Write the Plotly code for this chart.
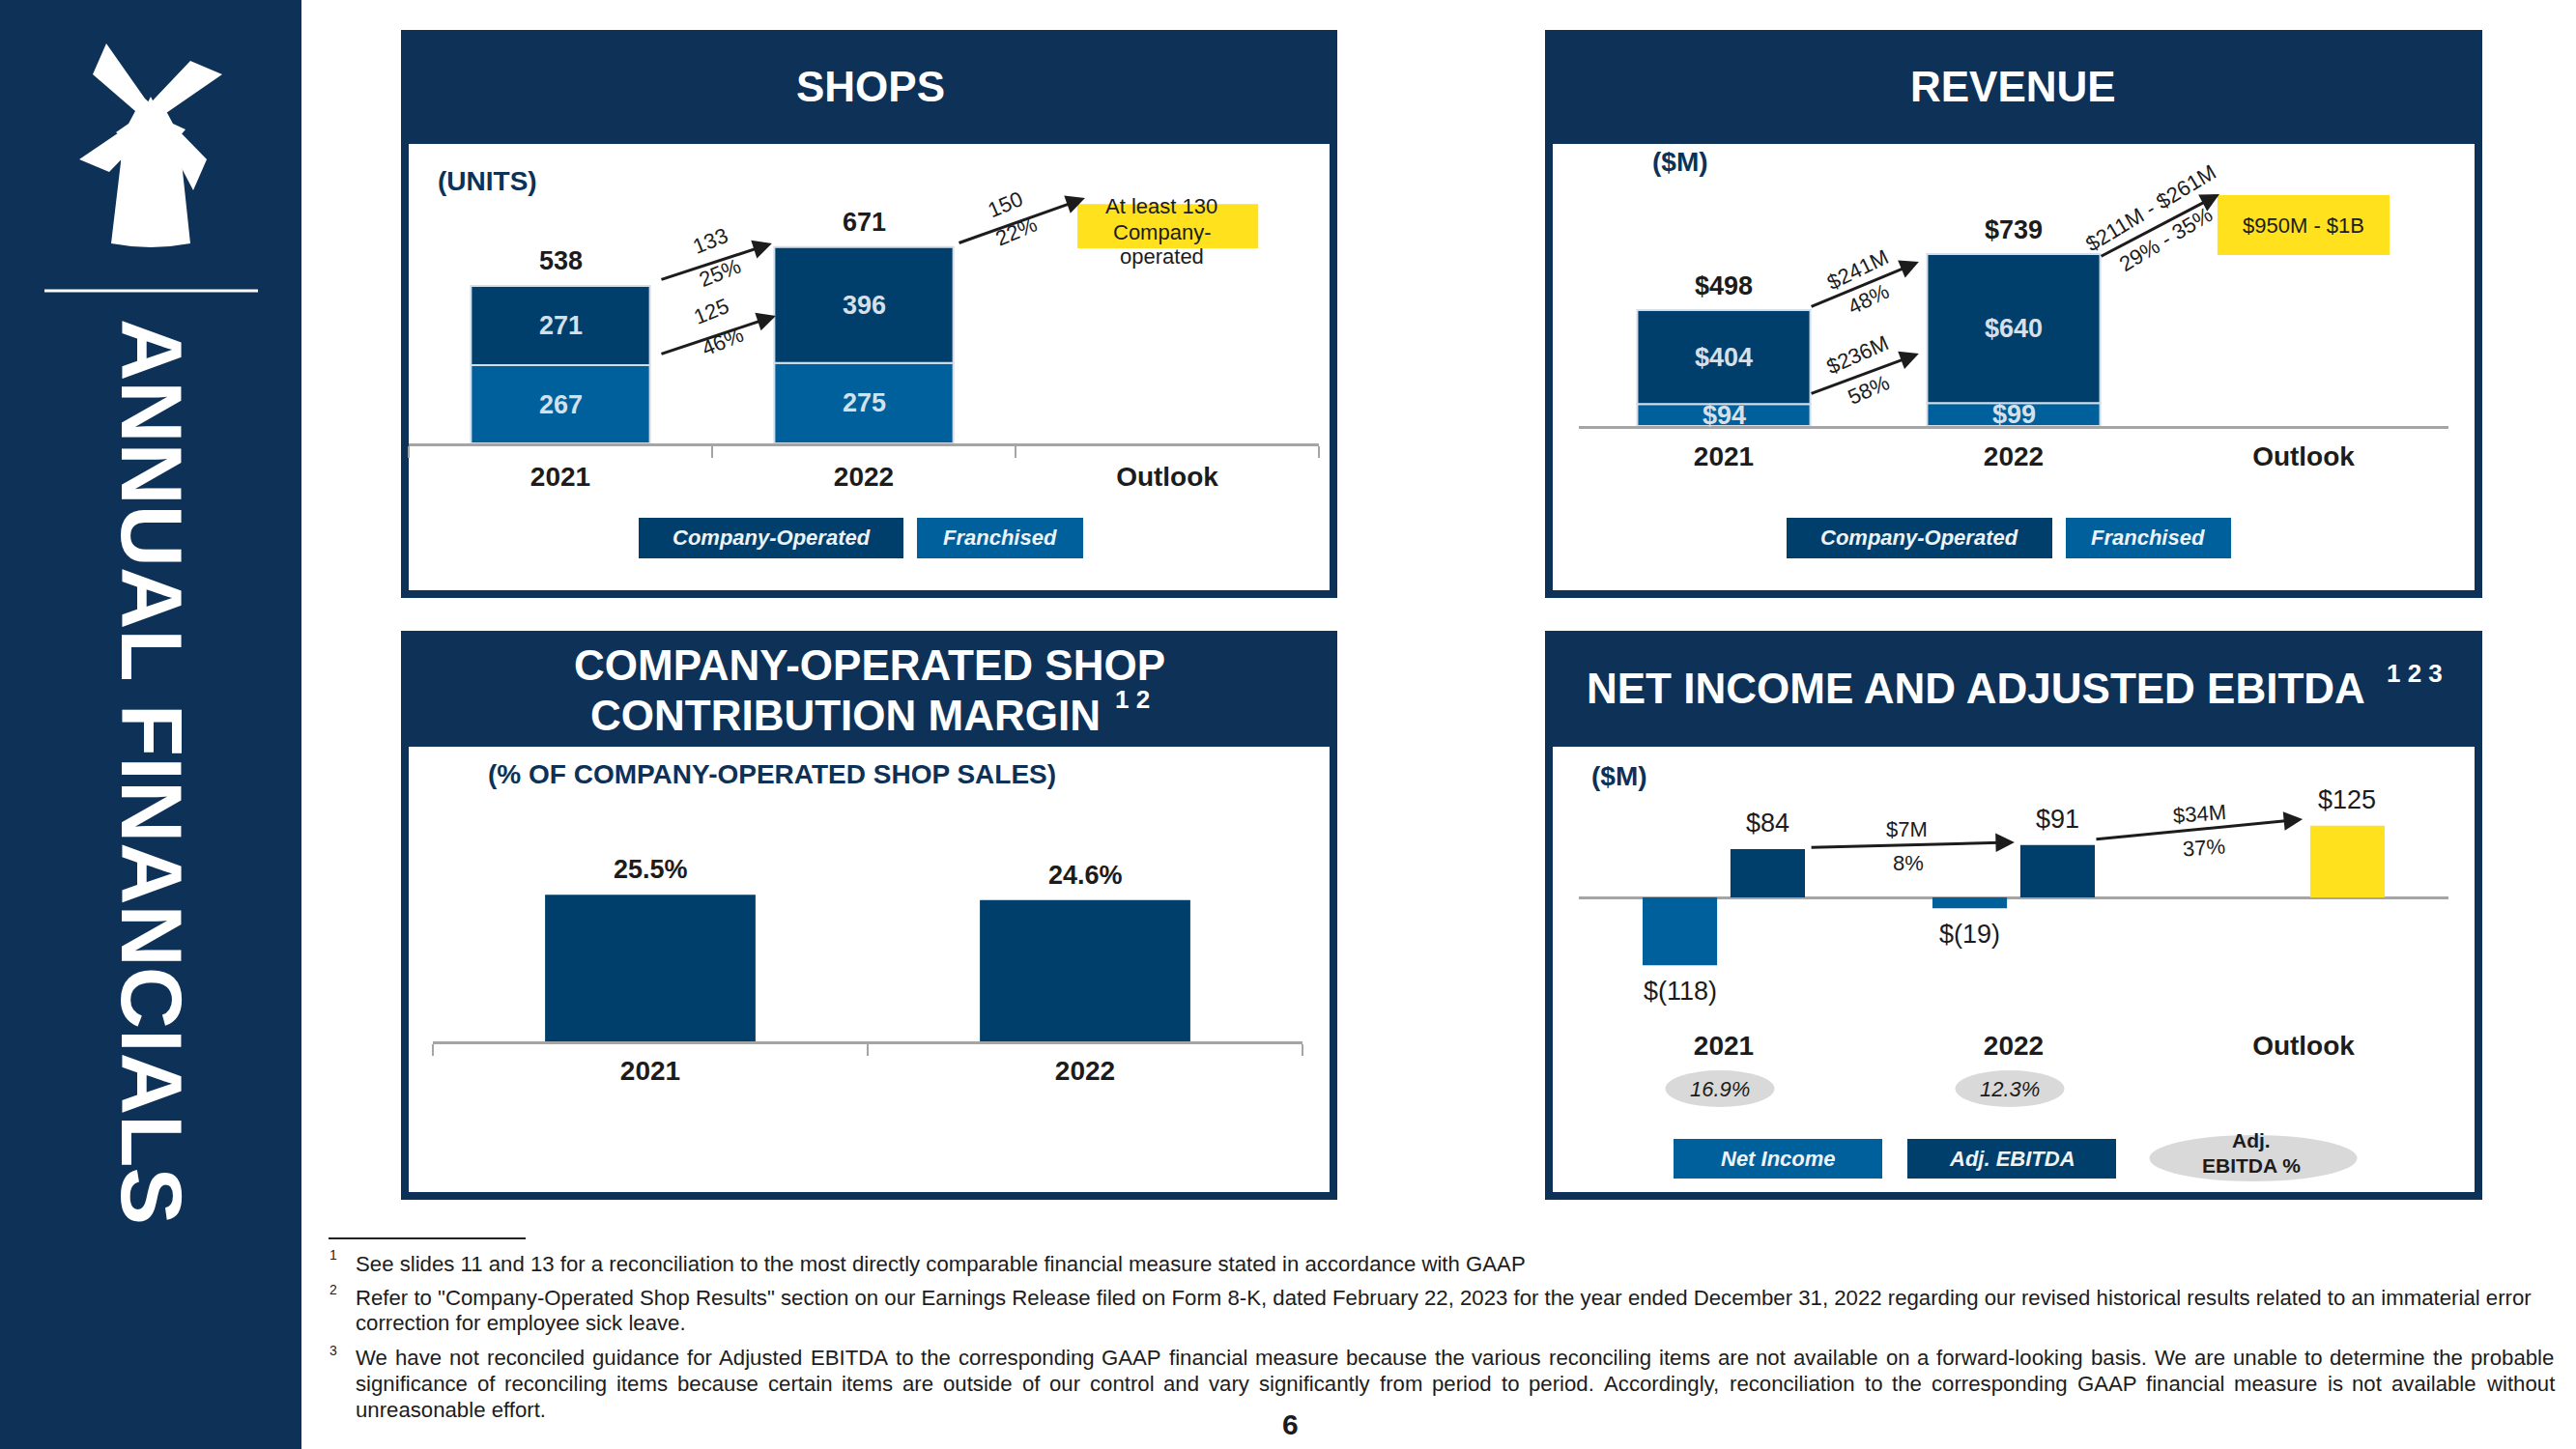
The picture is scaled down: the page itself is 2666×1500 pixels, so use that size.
import plotly.graph_objects as go

# ------------------------------------------------------------------ data
years = ["2021", "2022", "Outlook"]

shops_franchised = [267, 275]
shops_company = [271, 396]
shops_total = [538, 671]
shops_growth_total = ["133", "25%"]
shops_growth_company = ["125", "46%"]
shops_growth_outlook = ["150", "22%"]
shops_outlook_lines = ["At least 130", "Company-", "operated"]

rev_franchised = [94, 99]
rev_company = [404, 640]
rev_total = [498, 739]
rev_growth_total = ["$241M", "48%"]
rev_growth_company = ["$236M", "58%"]
rev_growth_outlook = ["$211M - $261M", "29% - 35%"]
rev_outlook_text = "$950M - $1B"

margin_years = ["2021", "2022"]
margin_values = [25.5, 24.6]

ni_values = [-118, -19, None]
ebitda_values = [84, 91, 125]
ebitda_growth = [["$7M", "8%"], ["$34M", "37%"]]
ebitda_margin = ["16.9%", "12.3%"]

footnotes = [
    ("1", ["See slides 11 and 13 for a reconciliation to the most directly comparable financial measure stated in accordance with GAAP"]),
    ("2", ['Refer to "Company-Operated Shop Results" section on our Earnings Release filed on Form 8-K, dated February 22, 2023 for the year ended December 31, 2022 regarding our revised historical results related to an immaterial error',
           "correction for employee sick leave."]),
    ("3", ["We have not reconciled guidance for Adjusted EBITDA to the corresponding GAAP financial measure because the various reconciling items are not available on a forward-looking basis. We are unable to determine the probable",
           "significance of reconciling items because certain items are outside of our control and vary significantly from period to period. Accordingly, reconciliation to the corresponding GAAP financial measure is not available without",
           "unreasonable effort."]),
]
footnote_justify = [[False], [False, False], [True, True, False]]

# ------------------------------------------------------------------ style
W, H = 2666, 1500
def PX(x): return x / W
def PY(y): return 1 - y / H

FONT = "Liberation Sans, Arial, Helvetica, sans-serif"
NAVY = "#0D3157"
CO = "#003F6B"
FR = "#00609C"
YEL = "#FFE11D"
EDGE = "#D3DEEA"
SEG_TXT = "#D6E0EA"
INK = "#1C1C1C"
AXIS = "#A5A5A5"
ELL = "#D9D9D9"
LEG_TXT = "#EEF3F8"

# Arial / Liberation Sans advance widths (per 1000 em) for justification
_AW = {" ": 278, "!": 278, '"': 355, "(": 333, ")": 333, ",": 278, "-": 333, ".": 278, "/": 278,
       ":": 278, ";": 278, "%": 889, "$": 556}
for c in "0123456789":
    _AW[c] = 556
_AW.update(dict(zip("ABCDEFGHIJKLMNOPQRSTUVWXYZ",
                    [667, 667, 722, 722, 667, 611, 778, 722, 278, 500, 667, 556, 833, 722, 778, 667,
                     778, 722, 667, 611, 722, 667, 944, 667, 667, 611])))
_AW.update(dict(zip("abcdefghijklmnopqrstuvwxyz",
                    [556, 556, 500, 556, 556, 278, 556, 556, 222, 222, 500, 222, 833, 556, 556, 556,
                     556, 333, 500, 278, 556, 500, 722, 500, 500, 500])))

def text_width(s, size):
    return sum(_AW.get(c, 556) for c in s) * size / 1000.0

def font(size, color=INK, bold=False, italic=False):
    return dict(family=FONT, size=size, color=color,
                weight="bold" if bold else "normal",
                style="italic" if italic else "normal")

annotations = []
shapes = []

def txt(x, y, s, size, color=INK, bold=False, italic=False, xanchor="center",
        yanchor="middle", angle=0, xref="paper", yref="paper", yshift=0, pixel=True):
    if pixel and xref == "paper":
        x = PX(x)
    if pixel and yref == "paper":
        y = PY(y)
    annotations.append(dict(x=x, y=y, xref=xref, yref=yref, text=s, showarrow=False,
                            font=font(size, color, bold, italic), xanchor=xanchor,
                            yanchor=yanchor, textangle=angle, yshift=yshift))

def arrow(tail, head, xref, yref):
    annotations.append(dict(x=head[0], y=head[1], ax=tail[0], ay=tail[1],
                            xref=xref, yref=yref, axref=xref, ayref=yref,
                            text="", showarrow=True, arrowhead=2, arrowsize=1.3,
                            arrowwidth=3, arrowcolor=INK, standoff=0, startstandoff=0))

def rect(x0, y0, x1, y1, color, layer="below"):
    shapes.append(dict(type="rect", xref="paper", yref="paper", x0=PX(x0), x1=PX(x1),
                       y0=PY(y1), y1=PY(y0), fillcolor=color, line=dict(width=0), layer=layer))

def ellipse(cx, cy, w, h, color):
    shapes.append(dict(type="circle", xref="paper", yref="paper", x0=PX(cx - w / 2), x1=PX(cx + w / 2),
                       y0=PY(cy + h / 2), y1=PY(cy - h / 2), fillcolor=color, line=dict(width=0), layer="above"))

def poly(points, color):
    d = "M " + " L ".join(f"{PX(x):.5f},{PY(y):.5f}" for x, y in points) + " Z"
    shapes.append(dict(type="path", xref="paper", yref="paper", path=d, fillcolor=color,
                       line=dict(width=0), layer="above"))

# ------------------------------------------------------------------ sidebar
rect(0, 0, 312, 1500, NAVY)
shapes.append(dict(type="line", xref="paper", yref="paper", x0=PX(46), x1=PX(267), y0=PY(301), y1=PY(301),
                   line=dict(color="white", width=3), layer="above"))
poly([(110, 45), (150, 102), (177, 127), (214, 165), (200, 197), (170, 140), (140, 115), (96, 77)], "white")
poly([(197, 63), (230, 77), (172, 117), (150, 140), (113, 178), (82, 165), (138, 127), (160, 102)], "white")
poly([(115, 252), (125, 168), (126, 141), (120, 137), (133, 128), (140, 115), (152, 108), (156, 100),
      (160, 108), (172, 115), (179, 128), (192, 134), (186, 141), (188, 168), (197, 252), (176, 255),
      (156, 256), (136, 255)], "white")
txt(157, 799, "ANNUAL FINANCIALS", 89, "white", bold=True, angle=90)

# ------------------------------------------------------------------ panels
panels = [(415, 31, 1384, 619, 149), (1599, 31, 2569, 619, 149),
          (415, 653, 1384, 1242, 773), (1599, 653, 2569, 1242, 773)]
for x0, y0, x1, y1, hb in panels:
    rect(x0, y0, x1, y1, NAVY)
    rect(x0 + 8, hb, x1 - 8, y1 - 8, "white")

txt(901, 89, "SHOPS", 44, "white", bold=True)
txt(2083, 89, "REVENUE", 44, "white", bold=True)
txt(900, 688, "COMPANY-OPERATED SHOP", 44, "white", bold=True)
txt(875, 740, "CONTRIBUTION MARGIN", 44, "white", bold=True)
txt(1172, 724, "1 2", 26, "white", bold=True)
txt(2045, 712, "NET INCOME AND ADJUSTED EBITDA", 44, "white", bold=True)
txt(2499, 697, "1 2 3", 26, "white", bold=True)

txt(451, 187, "(UNITS)", 28, NAVY, bold=True, xanchor="left")
txt(1708, 168, "($M)", 28, NAVY, bold=True, xanchor="left")
txt(799, 801, "(% OF COMPANY-OPERATED SHOP SALES)", 28, NAVY, bold=True)
txt(1645, 803, "($M)", 28, NAVY, bold=True, xanchor="left")

# ------------------------------------------------------------------ axes geometry
S_PPU = 0.303          # px per unit, shops
R_PPU = 0.241          # revenue
M_PPU = 5.95           # margin
N_PPU = 0.595          # net income / ebitda
NI_BOTTOM = 1055

layout_axes = {}
def xax(name, x0, x1, rng, tickvals, ticktext, anchor, ticklen, minor=None, showline=True):
    d = dict(domain=[PX(x0), PX(x1)], range=rng, anchor=anchor, tickmode="array",
             tickvals=tickvals, ticktext=ticktext, ticks="outside", ticklen=ticklen,
             tickcolor="rgba(0,0,0,0)", tickfont=font(28, INK, bold=True),
             showline=showline, linecolor=AXIS, linewidth=3, showgrid=False,
             zeroline=False, fixedrange=True)
    if minor:
        d["minor"] = dict(tickmode="array", tickvals=minor, ticks="outside", ticklen=12,
                          tickwidth=2, tickcolor=AXIS, showgrid=False)
    layout_axes[name] = d

def yax(name, ybot, ytop, rng, anchor, zeroline=False):
    layout_axes[name] = dict(domain=[PY(ybot), PY(ytop)], range=rng, anchor=anchor,
                             showticklabels=False, showgrid=False, showline=False, ticks="",
                             zeroline=zeroline, zerolinecolor=AXIS, zerolinewidth=3,
                             fixedrange=True)

xax("xaxis", 423, 1365, [-0.5, 2.5], [0, 1, 2], years, "y", 7, minor=[-0.5, 0.5, 1.5, 2.5])
yax("yaxis", 459, 160, [0, (459 - 160) / S_PPU], "x")
xax("xaxis2", 1634, 2534, [-0.5, 2.5], [0, 1, 2], years, "y2", 4)
yax("yaxis2", 441, 158, [0, (441 - 158) / R_PPU], "x2")
xax("xaxis3", 448, 1348, [-0.5, 1.5], [0, 1], margin_years, "y3", 3, minor=[-0.5, 0.5, 1.5])
yax("yaxis3", 1078, 785, [0, (1078 - 785) / M_PPU], "x3")
xax("xaxis4", 1634, 2534, [-0.5, 2.5], [0, 1, 2], years, "y4", 2, showline=False)
yax("yaxis4", NI_BOTTOM, 790, [-(NI_BOTTOM - 929) / N_PPU, (929 - 790) / N_PPU], "x4", zeroline=True)

fig = go.Figure()

# ------------------------------------------------------------------ SHOPS
SW = 0.59
xs = [0, 1]
fig.add_bar(x=xs, y=shops_franchised, width=SW, marker=dict(color=FR, line=dict(color=EDGE, width=2)),
            xaxis="x", yaxis="y", name="Franchised")
fig.add_bar(x=xs, y=shops_company, width=SW, marker=dict(color=CO, line=dict(color=EDGE, width=2)),
            xaxis="x", yaxis="y", name="Company-Operated")
for i in xs:
    txt(i, shops_franchised[i] / 2, str(shops_franchised[i]), 27, SEG_TXT, bold=True, xref="x", yref="y")
    txt(i, shops_franchised[i] + shops_company[i] / 2, str(shops_company[i]), 27, SEG_TXT, bold=True, xref="x", yref="y")
    txt(i, shops_total[i], str(shops_total[i]), 27, INK, bold=True, xref="x", yref="y", yshift=26)

arrow((0.328, shops_total[0] + 20), (0.697, shops_total[1] + 12), "x", "y")
arrow((0.328, shops_franchised[0] + 37), (0.710, shops_franchised[1] + 161), "x", "y")
arrow((1.309, shops_total[1] + 12), (1.729, 838), "x", "y")
txt(0.494, 690, shops_growth_total[0], 22, angle=-22, xref="x", yref="y")
txt(0.525, 584, shops_growth_total[1], 22, angle=-22, xref="x", yref="y")
txt(0.497, 449, shops_growth_company[0], 22, angle=-22, xref="x", yref="y")
txt(0.535, 347, shops_growth_company[1], 22, angle=-22, xref="x", yref="y")
txt(1.468, 818, shops_growth_outlook[0], 22, angle=-23, xref="x", yref="y")
txt(1.503, 723, shops_growth_outlook[1], 22, angle=-23, xref="x", yref="y")

shapes.append(dict(type="rect", xref="x", yref="y", x0=1.704, x1=2.30, y0=667, y1=818,
                   fillcolor=YEL, line=dict(width=0), layer="above"))
for line, py in zip(shops_outlook_lines, [213, 240, 265]):
    txt(1.981, (459 - py) / S_PPU, line, 22, xref="x", yref="y")

# ------------------------------------------------------------------ REVENUE
RW = 0.597
fig.add_bar(x=xs, y=rev_franchised, width=RW, marker=dict(color=FR, line=dict(color=EDGE, width=2)),
            xaxis="x2", yaxis="y2", name="Franchised")
fig.add_bar(x=xs, y=rev_company, width=RW, marker=dict(color=CO, line=dict(color=EDGE, width=2)),
            xaxis="x2", yaxis="y2", name="Company-Operated")
for i in xs:
    txt(i, rev_franchised[i] / 2, f"${rev_franchised[i]}", 27, SEG_TXT, bold=True, xref="x2", yref="y2")
    txt(i, rev_franchised[i] + rev_company[i] / 2, f"${rev_company[i]}", 27, SEG_TXT, bold=True, xref="x2", yref="y2")
    txt(i, rev_total[i], f"${rev_total[i]}", 27, INK, bold=True, xref="x2", yref="y2", yshift=25)

arrow((0.297, rev_total[0] + 12), (0.673, 705), "x2", "y2")
arrow((0.297, 137), (0.673, 311), "x2", "y2")
arrow((1.297, rev_total[1] - 13), (1.71, 996), "x2", "y2")
txt(0.46, 672, rev_growth_total[0], 22, angle=-26, xref="x2", yref="y2")
txt(0.50, 544, rev_growth_total[1], 22, angle=-26, xref="x2", yref="y2")
txt(0.46, 303, rev_growth_company[0], 22, angle=-24, xref="x2", yref="y2")
txt(0.50, 154, rev_growth_company[1], 22, angle=-24, xref="x2", yref="y2")
txt(1.473, 934, rev_growth_outlook[0], 22, angle=-31, xref="x2", yref="y2")
txt(1.527, 801, rev_growth_outlook[1], 22, angle=-31, xref="x2", yref="y2")

shapes.append(dict(type="rect", xref="x2", yref="y2", x0=1.703, x1=2.297, y0=734, y1=992,
                   fillcolor=YEL, line=dict(width=0), layer="above"))
txt(2.0, 863, rev_outlook_text, 22, xref="x2", yref="y2")

# ------------------------------------------------------------------ MARGIN
fig.add_bar(x=[0, 1], y=margin_values, width=0.484, marker=dict(color=CO, line=dict(width=0)),
            xaxis="x3", yaxis="y3", name="Margin")
for i, v in enumerate(margin_values):
    txt(i, v, f"{v:.1f}%", 27, INK, bold=True, xref="x3", yref="y3", yshift=26)

# ------------------------------------------------------------------ NET INCOME / EBITDA
NW = 0.257
x3 = [0, 1, 2]
fig.add_bar(x=x3, y=ni_values, width=NW, offset=-0.28, marker=dict(color=FR, line=dict(width=0)),
            xaxis="x4", yaxis="y4", name="Net Income")
fig.add_bar(x=x3, y=ebitda_values, width=NW, offset=0.023,
            marker=dict(color=[CO, CO, YEL], line=dict(width=0)),
            xaxis="x4", yaxis="y4", name="Adj. EBITDA")
for i in x3:
    v = ni_values[i]
    if v is not None:
        txt(i - 0.28 + NW / 2, v, f"$({abs(v)})", 27, INK, xref="x4", yref="y4", yshift=-27)
    e = ebitda_values[i]
    txt(i + 0.023 + NW / 2, e, f"${e}", 27, INK, xref="x4", yref="y4", yshift=27)

arrow((0.297, ebitda_values[0] + 3), (1.003, ebitda_values[1] + 5), "x4", "y4")
arrow((1.28, ebitda_values[1] + 10), (1.997, ebitda_values[2] + 11), "x4", "y4")
txt(0.633, 119, ebitda_growth[0][0], 22, xref="x4", yref="y4")
txt(0.637, 59, ebitda_growth[0][1], 22, xref="x4", yref="y4")
txt(1.643, 146, ebitda_growth[1][0], 22, angle=-4, xref="x4", yref="y4")
txt(1.657, 87, ebitda_growth[1][1], 22, angle=-4, xref="x4", yref="y4")

for i, m in enumerate(ebitda_margin):
    cx = 1634 + (i + 0.5) * 300 - 4
    ellipse(cx, 1127, 113, 38, ELL)
    txt(cx, 1127, m, 22, INK, italic=True)

# ------------------------------------------------------------------ legends
rect(661, 536, 935, 578, CO, layer="above")
rect(949, 536, 1121, 578, FR, layer="above")
txt(798, 557, "Company-Operated", 22, LEG_TXT, bold=True, italic=True)
txt(1035, 557, "Franchised", 22, LEG_TXT, bold=True, italic=True)

rect(1849, 536, 2124, 578, CO, layer="above")
rect(2138, 536, 2309, 578, FR, layer="above")
txt(1986, 557, "Company-Operated", 22, LEG_TXT, bold=True, italic=True)
txt(2223, 557, "Franchised", 22, LEG_TXT, bold=True, italic=True)

rect(1732, 1179, 1948, 1220, FR, layer="above")
rect(1974, 1179, 2190, 1220, CO, layer="above")
txt(1840, 1199, "Net Income", 22, LEG_TXT, bold=True, italic=True)
txt(2082, 1199, "Adj. EBITDA", 22, LEG_TXT, bold=True, italic=True)
ellipse(2332, 1199, 215, 48, ELL)
txt(2330, 1180, "Adj.", 21, INK, bold=True)
txt(2330, 1206, "EBITDA %", 21, INK, bold=True)

# ------------------------------------------------------------------ footnotes
shapes.append(dict(type="line", xref="paper", yref="paper", x0=PX(340), x1=PX(544), y0=PY(1282), y1=PY(1282),
                   line=dict(color="#222222", width=2), layer="above"))
FN_SIZE = 22.2
FN_LEFT, FN_RIGHT = 366, 2641
fn_rows = [[1308], [1343, 1369], [1405, 1432, 1459]]
sup_rows = [1299, 1335, 1398]
for (num, lines), rows, sy, just in zip(footnotes, fn_rows, sup_rows, footnote_justify):
    txt(345, sy, num, 14, INK)
    for line, y, j in zip(lines, rows, just):
        if not j:
            txt(FN_LEFT, y, line, FN_SIZE, INK, xanchor="left")
            continue
        words = line.split(" ")
        widths = [text_width(w, FN_SIZE) for w in words]
        gap = (FN_RIGHT - FN_LEFT - sum(widths)) / (len(words) - 1)
        xpos = FN_LEFT
        for w, wd in zip(words, widths):
            txt(xpos, y, w, FN_SIZE, INK, xanchor="left")
            xpos += wd + gap
txt(1335, 1474, "6", 30, INK, bold=True)

# ------------------------------------------------------------------ layout
fig.update_layout(width=W, height=H, margin=dict(l=0, r=0, t=0, b=0, pad=0),
                  paper_bgcolor="white", plot_bgcolor="rgba(0,0,0,0)",
                  barmode="relative", showlegend=False, font=dict(family=FONT),
                  shapes=shapes, annotations=annotations, hovermode=False, **layout_axes)

fig.write_html("out.html", config=dict(displayModeBar=False, staticPlot=True),
               post_script="document.body.style.margin='0px';document.body.style.overflow='hidden';")
